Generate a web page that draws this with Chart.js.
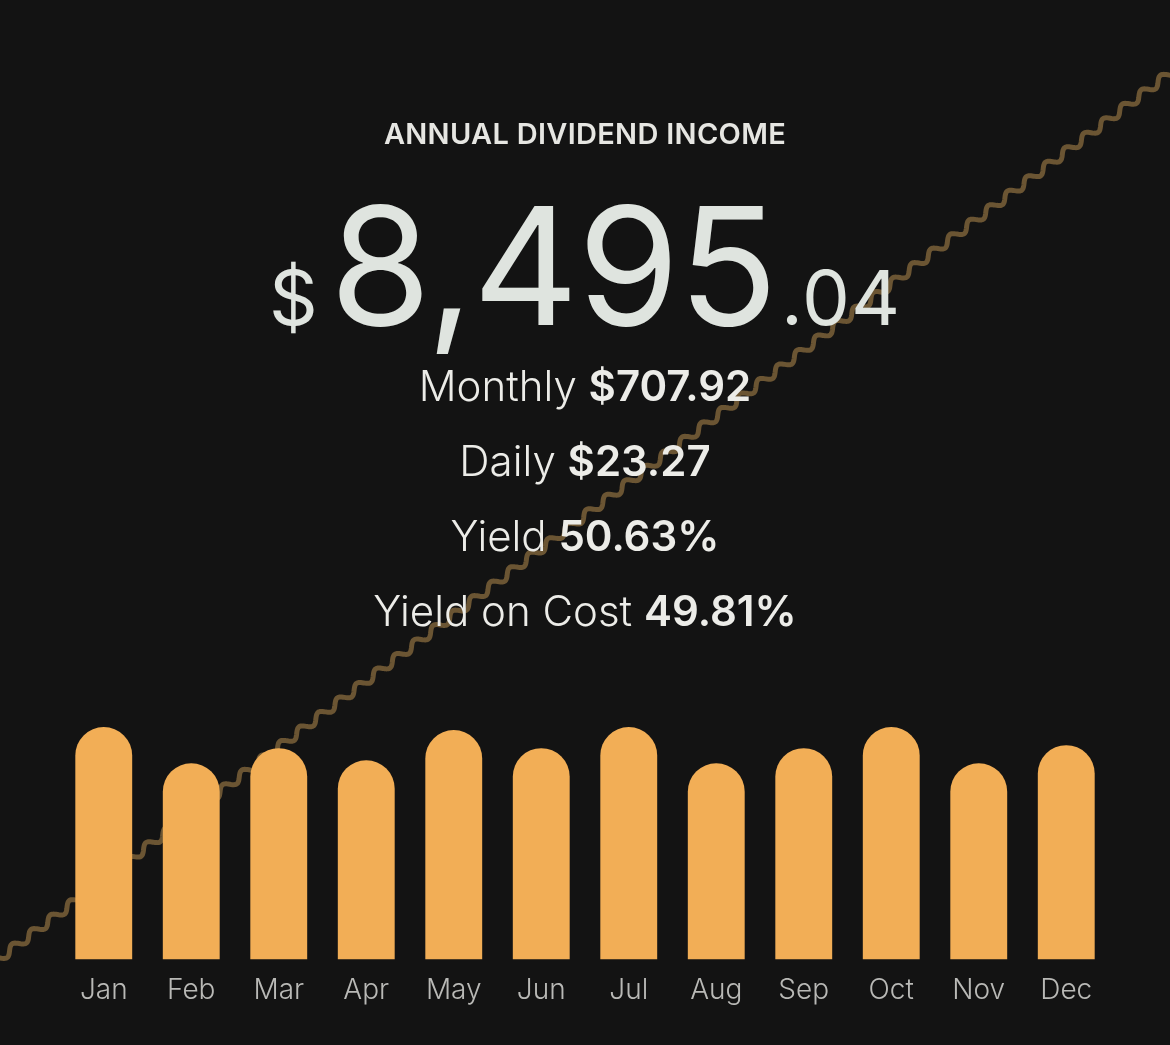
<!DOCTYPE html>
<html>
<head>
<meta charset="utf-8">
<script src="https://cdn.jsdelivr.net/npm/chart.js@4.4.1/dist/chart.umd.min.js"></script>
<style>
  html, body { margin: 0; padding: 0; background: #131313; }
  body { width: 1170px; height: 1045px; position: relative; overflow: hidden; font-family: 'Inter', sans-serif; }
  #chart { position: absolute; left: 0; top: 0; }
  .head { position: absolute; left: 0; width: 1170px; text-align: center; color: #dfe4df; }
  .title { top: 116px; font-size: 29px; font-weight: 600; letter-spacing: 0.3px; color: #e6e6e2; }
  .total { top: 184px; display: flex; justify-content: center; align-items: baseline; line-height: 1; }
  .total .cur { font-size: 76px; font-weight: 400; margin-right: 12px; }
  .total .big { font-size: 164px; font-weight: 400; letter-spacing: -1px; }
  .total .cents { font-size: 76px; font-weight: 400; margin-left: 4px; letter-spacing: 1px; }
  .stat { font-size: 42px; font-weight: 300; color: #ecece8; }
  .stat b { font-weight: 600; }
</style>
</head>
<body>
<canvas id="chart" width="1170" height="1045"></canvas>
<div class="head title">ANNUAL DIVIDEND INCOME</div>
<div class="head total"><span class="cur">$</span><span class="big" id="big"></span><span class="cents" id="cents"></span></div>
<div id="stats"></div>
<script>
const months = ['Jan', 'Feb', 'Mar', 'Apr', 'May', 'Jun', 'Jul', 'Aug', 'Sep', 'Oct', 'Nov', 'Dec'];
const monthlyIncome = [770, 650, 700, 660, 760, 700, 770, 650, 700, 770, 650, 710];
const annualIncome = '8,495.04';
const statLabels = ['Monthly', 'Daily', 'Yield', 'Yield on Cost'];
const statValues = ['$707.92', '$23.27', '50.63%', '49.81%'];

const [whole, cents] = annualIncome.split('.');
document.getElementById('big').textContent = whole;
document.getElementById('cents').textContent = '.' + cents;

const statsBox = document.getElementById('stats');
statLabels.forEach((label, i) => {
    const row = document.createElement('div');
    row.className = 'head stat';
    row.style.top = (360 + i * 75) + 'px';
    row.innerHTML = label + ' <b>' + statValues[i] + '</b>';
    statsBox.appendChild(row);
});

// decorative wavy diagonal behind everything
const wavePlugin = {
    id: 'wave',
    beforeDatasetsDraw(chart) {
        const { ctx, width } = chart;
        const x0 = 0, y0 = 958, x1 = width, y1 = 73;
        const dx = x1 - x0, dy = y1 - y0;
        const len = Math.hypot(dx, dy);
        const ux = dx / len, uy = dy / len;
        const nx = -uy, ny = ux;
        const period = 24, amp = 4;
        ctx.save();
        ctx.strokeStyle = '#6b5533';
        ctx.lineWidth = 5;
        ctx.lineJoin = 'round';
        ctx.beginPath();
        for (let s = -20; s <= len + 20; s += 1) {
            const w = amp * Math.sin((s / period) * Math.PI * 2);
            const px = x0 + ux * s + nx * w;
            const py = y0 + uy * s + ny * w;
            if (s === -20) ctx.moveTo(px, py); else ctx.lineTo(px, py);
        }
        ctx.stroke();
        ctx.restore();
    }
};

new Chart(document.getElementById('chart'), {
    type: 'bar',
    data: {
        labels: months,
        datasets: [{
            data: monthlyIncome,
            backgroundColor: '#f2ae56',
            borderRadius: { topLeft: 40, topRight: 40, bottomLeft: 0, bottomRight: 0 },
            borderSkipped: false,
            barPercentage: 0.65,
            categoryPercentage: 1,
        }],
    },
    options: {
        responsive: false,
        animation: false,
        layout: { padding: { left: 60, right: 60, top: 718, bottom: 24 } },
        scales: {
            x: {
                grid: { display: false, drawTicks: false },
                border: { display: false },
                ticks: { color: '#b9b9b6', font: { family: "'Inter'", size: 28, weight: '300' }, padding: 14 },
            },
            y: { display: false, min: 0, max: 800 },
        },
        plugins: { legend: { display: false }, tooltip: { enabled: false } },
    },
    plugins: [wavePlugin],
});
</script>
</body>
</html>
